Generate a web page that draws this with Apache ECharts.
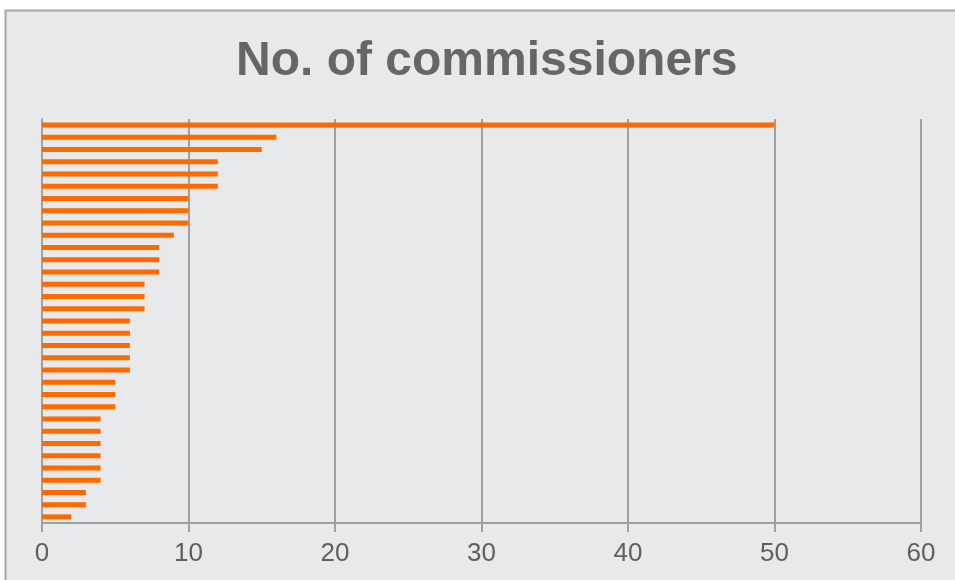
<!DOCTYPE html>
<html lang="en">
<head>
    <meta charset="UTF-8">
    <title>No. of commissioners</title>
    <script src="https://cdn.jsdelivr.net/npm/echarts@6/dist/echarts.min.js"></script>
    <style>
        body { margin: 0; background: #ffffff; }
    </style>
</head>
<body>
<div id="main" style="width: 955px;height:580px;"></div>
<script type="text/javascript">
    // one row per body, largest at the top (labels are not shown in the chart)
    var categories = ['1','2','3','4','5','6','7','8','9','10','11','12','13','14','15','16','17',
        '18','19','20','21','22','23','24','25','26','27','28','29','30','31','32','33'];
    var commissioners = [50,16,15,12,12,12,10,10,10,9,8,8,8,7,7,7,6,6,6,6,6,5,5,5,4,4,4,4,4,4,3,3,2];
    var ticks = [0,10,20,30,40,50,60];

    var myChart = echarts.init(document.getElementById('main'));

    var option = {
        backgroundColor: '#ffffff',
        animation: false,
        graphic: [
            {
                type: 'rect',
                z: -10,
                shape: { x: 5.5, y: 10.5, width: 960, height: 580 },
                style: { fill: '#e8e9eb', stroke: '#a6a6a6', lineWidth: 2 }
            }
        ],
        title: {
            text: 'No. of commissioners',
            left: 231,
            top: 33,
            textStyle: {
                fontFamily: 'Liberation Sans, Arial, sans-serif',
                fontSize: 48,
                fontWeight: 'bold',
                color: '#666666'
            }
        },
        grid: {
            left: 42,
            right: 34,
            top: 119,
            bottom: 57
        },
        xAxis: {
            type: 'value',
            min: ticks[0],
            max: ticks[ticks.length - 1],
            interval: 10,
            axisLine: { show: true, lineStyle: { color: '#a0a0a0', width: 2 } },
            axisTick: { show: true, length: 9, lineStyle: { color: '#a0a0a0', width: 2 } },
            splitLine: { show: true, lineStyle: { color: '#a0a0a0', width: 2 } },
            axisLabel: {
                margin: 18,
                fontFamily: 'Liberation Sans, Arial, sans-serif',
                fontSize: 26,
                color: '#5f5f5f'
            }
        },
        yAxis: {
            type: 'category',
            inverse: true,
            data: categories,
            axisLine: { show: true, lineStyle: { color: '#a0a0a0', width: 2 } },
            axisTick: { show: false },
            axisLabel: { show: false }
        },
        series: [
            {
                name: 'No. of commissioners',
                type: 'bar',
                data: commissioners,
                barWidth: 5,
                itemStyle: { color: '#ff6a00' }
            }
        ]
    };

    myChart.setOption(option);
</script>
</body>
</html>
